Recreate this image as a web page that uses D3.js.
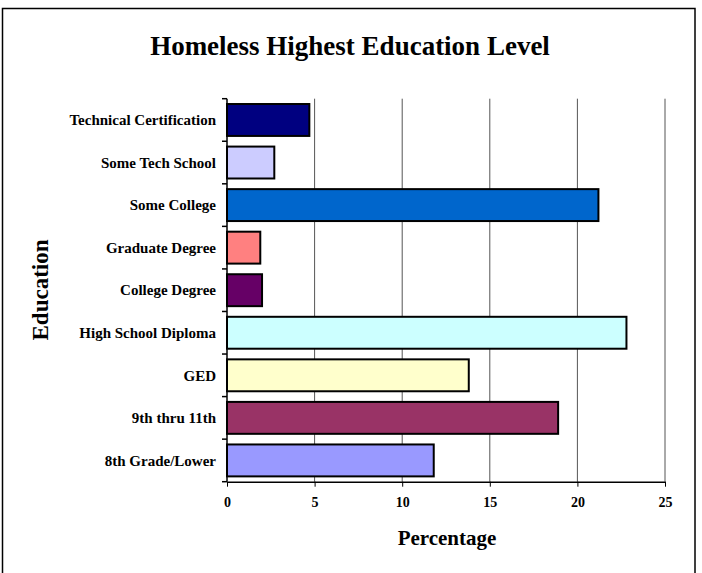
<!DOCTYPE html>
<html>
<head>
<meta charset="utf-8">
<script src="https://cdn.jsdelivr.net/npm/d3@7/dist/d3.min.js"></script>
<style>
  body { margin: 0; background: #fff; }
  svg { display: block; }
  text { font-family: "Liberation Serif", "DejaVu Serif", serif; font-weight: bold; fill: #000; }
</style>
</head>
<body>
<div id="chart"></div>
<script>
// categories, bottom to top
const categories = [
    '8th Grade/Lower',
    '9th thru 11th',
    'GED',
    'High School Diploma',
    'College Degree',
    'Graduate Degree',
    'Some College',
    'Some Tech School',
    'Technical Certification'
];
const percentages = [11.8, 18.9, 13.8, 22.8, 2.0, 1.9, 21.2, 2.7, 4.7];
const barColors = ['#9999ff', '#993366', '#ffffcc', '#ccffff', '#660066', '#ff8080', '#0066cc', '#ccccff', '#000080'];
const xTicks = [0, 5, 10, 15, 20, 25];

const width = 702;
const height = 573;
const plot = { left: 227, right: 665, top: 98.7, bottom: 481.7 };

const svg = d3.select('#chart')
    .append('svg')
    .attr('width', width)
    .attr('height', height);

// outer frame (runs past the bottom edge)
svg.append('rect')
    .attr('x', 2.5)
    .attr('y', 8.5)
    .attr('width', 692.5)
    .attr('height', 600)
    .attr('fill', 'none')
    .attr('stroke', '#000')
    .attr('stroke-width', 1.5);

const xScale = d3.scaleLinear()
    .domain([0, 25])
    .range([plot.left, plot.right]);

const yScale = d3.scaleBand()
    .domain(categories.slice().reverse())
    .range([plot.top, plot.bottom])
    .paddingInner(0.25)
    .paddingOuter(0.125);

// gridlines
svg.append('g')
    .selectAll('line')
    .data(xTicks.slice(1))
    .join('line')
    .attr('x1', d => xScale(d))
    .attr('x2', d => xScale(d))
    .attr('y1', plot.top)
    .attr('y2', plot.bottom)
    .attr('stroke', '#555')
    .attr('stroke-width', 1);

// bars
svg.append('g')
    .selectAll('rect')
    .data(categories)
    .join('rect')
    .attr('x', xScale(0))
    .attr('y', d => yScale(d))
    .attr('width', (d, i) => xScale(percentages[i]) - xScale(0))
    .attr('height', yScale.bandwidth())
    .attr('fill', (d, i) => barColors[i])
    .attr('stroke', '#000')
    .attr('stroke-width', 2);

// y axis
const yAxis = svg.append('g')
    .attr('transform', `translate(${plot.left},0)`);
yAxis.append('line')
    .attr('y1', plot.top).attr('y2', plot.bottom)
    .attr('stroke', '#000').attr('stroke-width', 1.5);
const bandStep = yScale.step();
yAxis.selectAll('.ytick')
    .data(d3.range(categories.length + 1))
    .join('line')
    .attr('x1', -5).attr('x2', 0)
    .attr('y1', i => plot.top + i * bandStep)
    .attr('y2', i => plot.top + i * bandStep)
    .attr('stroke', '#000').attr('stroke-width', 1.5);
yAxis.selectAll('text')
    .data(categories)
    .join('text')
    .attr('x', -11)
    .attr('y', d => yScale(d) + yScale.bandwidth() / 2)
    .attr('dy', '0.35em')
    .attr('text-anchor', 'end')
    .style('font-size', '15px')
    .text(d => d);

// x axis
const xAxis = svg.append('g')
    .attr('transform', `translate(0,${plot.bottom})`)
    .call(d3.axisBottom(xScale).tickValues(xTicks).tickSize(5).tickSizeOuter(0).tickPadding(10));
xAxis.select('.domain').attr('stroke', '#000').attr('stroke-width', 1.5);
xAxis.selectAll('.tick line').attr('stroke', '#000').attr('stroke-width', 1);
xAxis.selectAll('.tick text')
    .style('font-size', '14px')
    .style('font-family', '"Liberation Serif", serif')
    .style('font-weight', 'bold');

// titles
svg.append('text')
    .attr('x', 350)
    .attr('y', 55)
    .attr('text-anchor', 'middle')
    .style('font-size', '27px')
    .text('Homeless Highest Education Level');

svg.append('text')
    .attr('x', 447)
    .attr('y', 545)
    .attr('text-anchor', 'middle')
    .style('font-size', '21px')
    .text('Percentage');

svg.append('text')
    .attr('transform', 'translate(48,290) rotate(-90)')
    .attr('text-anchor', 'middle')
    .style('font-size', '23px')
    .text('Education');
</script>
</body>
</html>
